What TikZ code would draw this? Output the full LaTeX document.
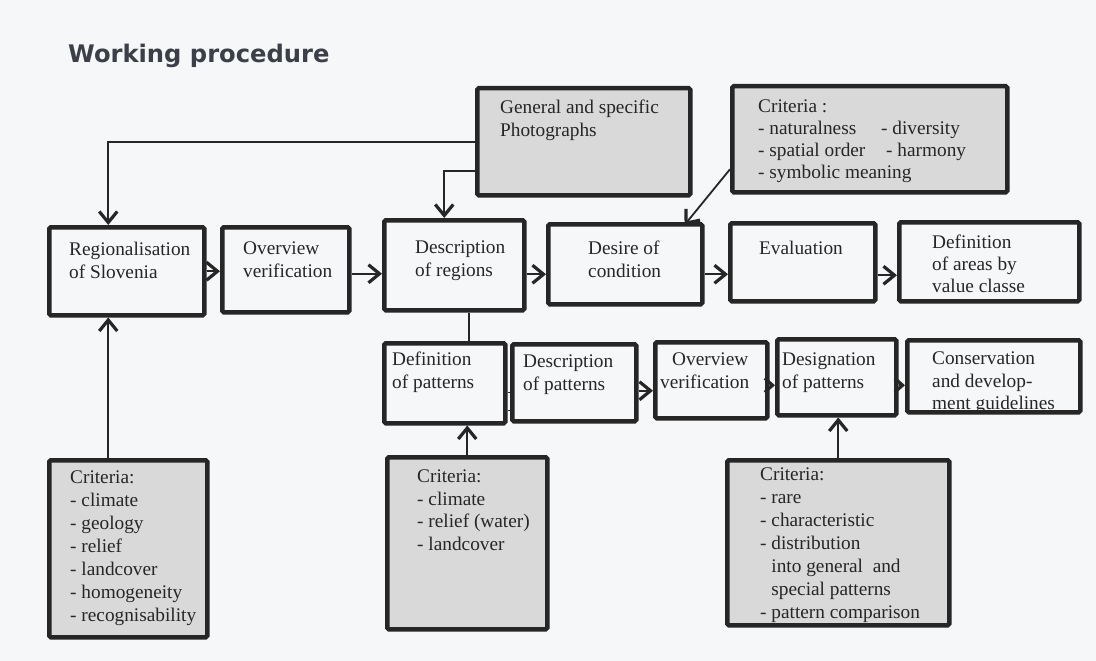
\documentclass[tikz,border=0pt]{standalone}
\usepackage{fontspec}
\setmainfont{Liberation Serif}
\newfontfamily\titlefont{DejaVu Sans}
\usetikzlibrary{arrows.meta}
\definecolor{ink}{HTML}{262626}
\definecolor{paper}{HTML}{F6F7F9}
\definecolor{shade}{HTML}{D9D9D9}
\definecolor{titleink}{HTML}{3C3F47}
\definecolor{txtink}{HTML}{262626}
\begin{document}
\begin{tikzpicture}[x=1pt,y=-1pt,
  box/.style={draw=ink, line width=4.5pt, rounded corners=1.5pt, inner sep=0pt, anchor=north west},
  gbox/.style={box, fill=shade},
  txt/.style={anchor=north west, inner sep=0pt, align=left, yshift=16.1pt, text=txtink,
              font=\fontsize{19.3}{23}\selectfont},
  conn/.style={draw=ink, line width=1.8pt},
  arr/.style={conn, -{Straight Barb[length=11pt, width=18pt, line width=3.2pt]}},
  sarr/.style={conn, -{Straight Barb[length=8pt, width=14pt, line width=3pt]}}
]
\fill[paper] (0,0) rectangle (1096,661);
\useasboundingbox (0,0) rectangle (1096,661);

% title
\node[anchor=base west, inner sep=0pt, text=titleink, font=\titlefont\bfseries\fontsize{24.2}{28}\selectfont] (title) at (68,63) {Working procedure};

% boxes
\node[gbox, minimum width=213pt, minimum height=107pt] (photo) at (475,86) {};
\node[gbox, minimum width=275pt, minimum height=106pt] (crit) at (730,84) {};
\node[box, minimum width=155pt, minimum height=88pt] (reg) at (47,225) {};
\node[box, minimum width=127pt, minimum height=85pt] (ov) at (220,225) {};
\node[box, minimum width=140pt, minimum height=90pt] (desc) at (382,218) {};
\node[box, minimum width=154pt, minimum height=80pt] (des) at (546,222) {};
\node[box, minimum width=145pt, minimum height=78pt] (eval) at (728,221) {};
\node[box, minimum width=180pt, minimum height=79pt] (area) at (897,220) {};
\node[box, minimum width=121pt, minimum height=80pt] (dfp) at (382,341) {};
\node[box, minimum width=124pt, minimum height=77pt] (dsp) at (510,342) {};
\node[box, minimum width=112pt, minimum height=76pt] (ov2) at (653,340) {};
\node[box, minimum width=119pt, minimum height=76pt] (dsg) at (775,337) {};
\node[box, minimum width=173pt, minimum height=72pt] (cons) at (905,338) {};
\node[gbox, minimum width=158pt, minimum height=177pt] (cl) at (47,458) {};
\node[gbox, minimum width=160pt, minimum height=172pt] (cm) at (385,455) {};
\node[gbox, minimum width=222pt, minimum height=165pt] (cr) at (725,458) {};

% texts
\node[txt] (tphoto) at (500,113) {\strut General and specific\\Photographs};
\node[txt, font=\fontsize{19.3}{22}\selectfont] (tcrit) at (758,113) {\strut Criteria :\\
  \makebox[123pt][l]{- naturalness}- diversity\\
  \makebox[128pt][l]{- spatial order}- harmony\\
  - symbolic meaning};
\node[txt] (treg) at (69,255) {\strut Regionalisation\\of Slovenia};
\node[txt] (tov) at (243,254) {\strut Overview\\verification};
\node[txt] (tdesc) at (415,253) {\strut Description\\of regions};
\node[txt] (tdes) at (588,254) {\strut Desire of\\condition};
\node[txt] (teval) at (759,254) {\strut Evaluation};
\node[txt, font=\fontsize{19.3}{22}\selectfont] (tarea) at (932,249) {\strut Definition\\of areas by\\value classe};
\node[txt] (tdfp) at (392,365) {\strut Definition\\of patterns};
\node[txt] (tdsp) at (523,367) {\strut Description\\of patterns};
\node[txt] (tov2) at (660,365) {\strut\hspace*{12pt}Overview\\verification};
\node[txt] (tdsg) at (782,365) {\strut Designation\\of patterns};
\node[txt, font=\fontsize{19.3}{22.5}\selectfont] (tcons) at (932,365) {\strut Conservation\\and develop-\\ment guidelines};
\node[txt] (tcl) at (70,483) {\strut Criteria:\\- climate\\- geology\\- relief\\- landcover\\- homogeneity\\- recognisability};
\node[txt, font=\fontsize{19.3}{22.5}\selectfont] (tcm) at (417,483) {\strut Criteria:\\- climate\\- relief (water)\\- landcover};
\node[txt] (tcr) at (760,480) {\strut Criteria:\\- rare\\- characteristic\\- distribution\\
  \hphantom{-~}into general\ \ and\\ \hphantom{-~}special patterns\\- pattern comparison};

% connectors
\draw[arr] (photo.west) -| ([xshift=-18.5pt]reg.north);
\draw[arr] ([yshift=-29pt]photo.west) -| ([xshift=-10pt]desc.north);
\draw[arr] ([yshift=-30pt]crit.west) -- ([xshift=-20pt,yshift=-3pt]des.north east);

\draw[arr] (reg.east) -- (reg.east -| ov.west);
\draw[arr] ([yshift=-4pt]ov.east) -- ([yshift=-4pt]ov.east -| desc.west);
\draw[arr] ([yshift=-9pt]desc.east) -- ([yshift=-9pt]desc.east -| des.west);
\draw[arr] ([yshift=-10pt]des.east) -- ([yshift=-10pt]des.east -| eval.west);
\draw[arr] ([yshift=-13pt]eval.east) -- ([yshift=-13pt]eval.east -| area.west);

\draw[conn] ([xshift=15pt]desc.south) -- ([xshift=15pt]desc.south |- dfp.north);

\draw[conn, line width=1.4pt] ([yshift=-9pt]dfp.east) -- ([yshift=-9pt]dfp.east -| dsp.west);
\draw[conn, line width=1.4pt] ([yshift=-27pt]dfp.east) -- ([yshift=-27pt]dfp.east -| dsp.west);
\draw[arr] ([yshift=-8pt]dsp.east) -- ([yshift=-8pt]dsp.east -| ov2.west);
\draw[sarr] ([yshift=-5pt]ov2.east) -- ([yshift=-5pt]ov2.east -| dsg.west);
\draw[sarr] ([yshift=-8pt]dsg.east) -- ([yshift=-8pt]dsg.east -| cons.west);

\draw[arr] ([xshift=-20pt]cl.north) -- ([xshift=-20pt]cl.north |- reg.south);
\draw[arr] (cm.north) -- (cm.north |- dfp.south);
\draw[arr] (cr.north) -- (cr.north |- dsg.south);
\end{tikzpicture}
\end{document}
